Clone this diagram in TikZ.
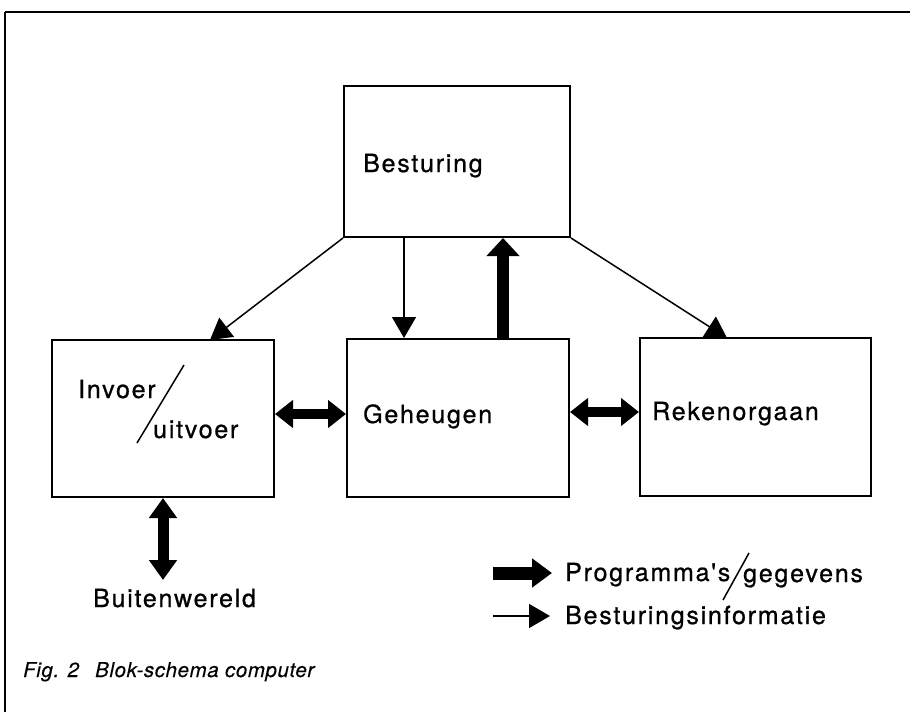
\documentclass[tikz,border=0pt]{standalone}
\usepackage{fontspec}
\setmainfont{TeX Gyre Heros}
\newfontfamily\labfont[LetterSpace=7,FakeBold=0.8]{TeX Gyre Heros}
\newfontfamily\capfont[LetterSpace=3,FakeBold=0.3]{TeX Gyre Heros}
\usetikzlibrary{arrows.meta}
\begin{document}
\begin{tikzpicture}[x=1pt,y=-1pt,
  box/.style={draw, line width=2pt, rectangle, inner sep=0pt},
  lab/.style={anchor=base west, inner sep=0pt, font=\labfont\fontsize{25}{30}\selectfont},
  capt/.style={anchor=base west, inner sep=0pt, font=\capfont\itshape\fontsize{20.5}{24}\selectfont},
  thinarrow/.style={line width=1.5pt, -{Triangle[length=21pt,width=24pt]}},
  bigarrow/.style={line width=12pt, -{Triangle[length=18pt,width=32pt]}},
  dblarrow/.style={line width=10pt, {Triangle[length=18pt,width=27pt]}-{Triangle[length=18pt,width=27pt]}},
  slashline/.style={line width=1.5pt}
]
\useasboundingbox (0,0) rectangle (910,712);
% frame
\coordinate (fa) at (5,712);
\coordinate (fb) at (5,12);
\coordinate (fc) at (910,12);
\draw[line width=2pt] (fa) -- (fb);
\draw[line width=2.5pt] (fb) -- (fc);

% boxes
\node[box, minimum width=226pt, minimum height=151pt] (bes) at (457,161.5) {};
\node[box, minimum width=222pt, minimum height=157pt] (inv) at (163,418.5) {};
\node[box, minimum width=222pt, minimum height=158pt] (geh) at (458,418) {};
\node[box, minimum width=231pt, minimum height=158pt] (rek) at (755.5,417) {};

% labels
\node[lab] (tbes) at (363,172) {Besturing};
\node[lab] (tinv) at (78,398) {Invoer};
\node[lab] (tuit) at (153,438) {uitvoer};
\coordinate (s1a) at (137,443);
\coordinate (s1b) at (184,365);
\draw[slashline] (s1a) -- (s1b);
\node[lab] (tgeh) at (363,423) {Geheugen};
\node[lab] (trek) at (652,420) {Rekenorgaan};
\node[lab] (tbw) at (93,607) {Buitenwereld};

% control connectors
\coordinate (pinv) at (210,340);
\coordinate (prek) at (727,338);
\coordinate (xg) at (404,300);
\coordinate (xu) at (503,300);
\draw[thinarrow] (bes.south west) -- (pinv);
\draw[thinarrow] (bes.south east) -- (prek);
\draw[thinarrow] (bes.south -| xg) -- (geh.north -| xg);
\draw[bigarrow] (geh.north -| xu) -- (bes.south -| xu);

% data connectors
\coordinate (y1) at (300,414);
\coordinate (y2) at (600,412);
\draw[dblarrow] (inv.east |- y1) -- (geh.west |- y1);
\draw[dblarrow] (geh.east |- y2) -- (rek.west |- y2);
\coordinate (pbw) at (163,580);
\draw[line width=11pt, {Triangle[length=20pt,width=27pt]}-{Triangle[length=20pt,width=27pt]}] (inv.south) -- (pbw);

% legend
\coordinate (la) at (493,573);
\coordinate (lb) at (552,573);
\coordinate (lc) at (493,616);
\coordinate (ld) at (550,616);
\draw[line width=13pt, -{Triangle[length=20pt,width=28pt]}] (la) -- (lb);
\draw[thinarrow] (lc) -- (ld);
\node[lab] (tprog) at (565,581) {Programma's};
\coordinate (s2a) at (723,600);
\coordinate (s2b) at (749,553);
\draw[slashline] (s2a) -- (s2b);
\node[lab] (tgeg) at (743,582) {gegevens};
\node[lab] (tbi) at (565,624) {Besturingsinformatie};

% caption
\node[capt] (cap1) at (23,677) {Fig. 2};
\node[capt] (cap2) at (95,677) {Blok-schema computer};
\end{tikzpicture}
\end{document}
